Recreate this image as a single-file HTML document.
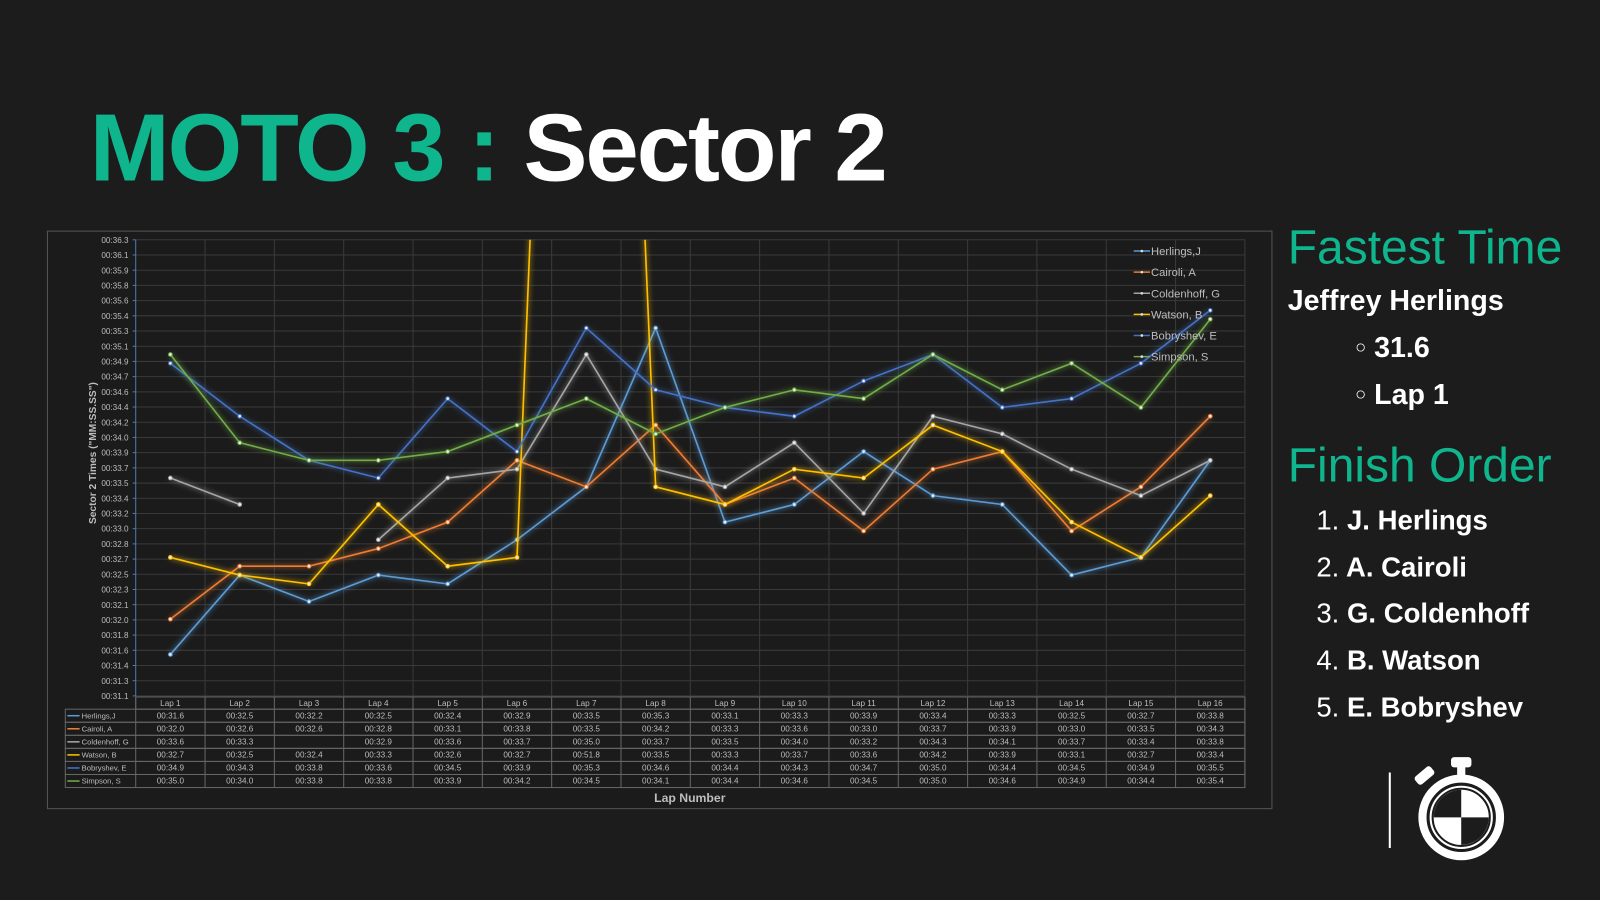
<!DOCTYPE html>
<html><head><meta charset="utf-8"><style>
html,body{margin:0;padding:0;background:#1c1c1c;}
#wrap{position:absolute;left:0;top:0;width:1568px;height:882px;transform:scale(1.020408);transform-origin:0 0;background:#1c1c1c;font-family:"Liberation Sans",sans-serif;overflow:hidden}
.t{position:absolute;white-space:nowrap}
</style></head><body><div id="wrap">
<div class="t" style="left:88px;top:91px;font-size:94px;font-weight:bold;color:#0fb58c;letter-spacing:-2px">MOTO 3 :</div>
<div class="t" style="left:513px;top:91px;font-size:94px;font-weight:bold;color:#fff;letter-spacing:-2px">Sector 2</div>
<svg id="ch" style="position:absolute;left:0;top:0" width="1568" height="882"></svg>
<div class="t" style="left:1262px;top:214px;font-size:47px;color:#0fb58c">Fastest Time</div>
<div class="t" style="left:1262px;top:279px;font-size:28px;font-weight:bold;color:#fff">Jeffrey Herlings</div>
<div class="t" style="left:1328px;top:325px;font-size:28px;font-weight:bold;color:#fff"><span style="font-size:18px;font-weight:normal;vertical-align:4px">○</span>&nbsp;31.6</div>
<div class="t" style="left:1328px;top:371px;font-size:28px;font-weight:bold;color:#fff"><span style="font-size:18px;font-weight:normal;vertical-align:4px">○</span>&nbsp;Lap 1</div>
<div class="t" style="left:1262px;top:428px;font-size:47px;color:#0fb58c">Finish Order</div>
<div class="t" style="left:1290px;top:488px;font-size:27px;font-weight:bold;color:#fff;line-height:45.7px">
<div><span style="font-weight:normal">1.</span> J. Herlings</div>
<div><span style="font-weight:normal">2.</span> A. Cairoli</div>
<div><span style="font-weight:normal">3.</span> G. Coldenhoff</div>
<div><span style="font-weight:normal">4.</span> B. Watson</div>
<div><span style="font-weight:normal">5.</span> E. Bobryshev</div>
</div>
<svg style="position:absolute;left:1350px;top:735px" width="140" height="120">
<line x1="12" y1="22" x2="12" y2="96" stroke="#fff" stroke-width="2"/>
<rect x="72" y="7" width="20" height="10" rx="3" fill="#fff"/>
<rect x="78" y="15" width="8" height="10" fill="#fff"/>
<rect x="36" y="20" width="20" height="10" rx="3" fill="#fff" transform="rotate(-40 46 25)"/>
<circle cx="82" cy="66" r="38" fill="none" stroke="#fff" stroke-width="8"/>
<circle cx="82" cy="66" r="28" fill="#fff" stroke="#1c1c1c" stroke-width="2"/>
<circle cx="82" cy="66" r="30" fill="none" stroke="#fff" stroke-width="2"/>
<path d="M82 66 L82 39 A27 27 0 0 0 55 66 Z" fill="#1c1c1c"/>
<path d="M82 66 L109 66 A27 27 0 0 1 82 93 Z" fill="#1c1c1c"/>
</svg>
</div>
<script>
var NS="http://www.w3.org/2000/svg",svg=document.getElementById('ch');
function el(n,a,p){var e=document.createElementNS(NS,n);for(var k in a)e.setAttribute(k,a[k]);(p||svg).appendChild(e);return e;}
function tx(x,y,s,a){var e=el('text',Object.assign({x:x,y:y,fill:'#bdbdbd','font-size':8,'font-family':'Liberation Sans, sans-serif','text-anchor':'middle'},a||{}));e.textContent=s;return e;}
var defs=el('defs',{});var f=el('filter',{id:'gl',x:'-10%',y:'-10%',width:'120%',height:'120%'},defs);
el('feGaussianBlur',{stdDeviation:2.5,result:'b'},f);var m=el('feMerge',{},f);el('feMergeNode',{in:'b'},m);el('feMergeNode',{in:'SourceGraphic'},m);
var cp=el('clipPath',{id:'cp'},defs);el('rect',{x:133,y:235,width:1087,height:447},cp);
el('rect',{x:46.5,y:226.5,width:1200,height:566,fill:'#1b1b1b',stroke:'#555','stroke-width':1});
var L=133,R=1220,T=235,B=682,cw=(R-L)/16;
var labs="36.3 36.1 35.9 35.8 35.6 35.4 35.3 35.1 34.9 34.7 34.6 34.4 34.2 34.0 33.9 33.7 33.5 33.4 33.2 33.0 32.8 32.7 32.5 32.3 32.1 32.0 31.8 31.6 31.4 31.3 31.1".split(' ');
for(var i=0;i<31;i++){var y=T+i*(B-T)/30;el('line',{x1:L,x2:R,y1:y,y2:y,stroke:'#3a3a3a','stroke-width':1});
el('line',{x1:L-3,x2:L,y1:y,y2:y,stroke:'#4a7ab0'});tx(126,y+3,'00:'+labs[i],{'text-anchor':'end'});}
for(var i=1;i<=16;i++){var x=L+i*cw;el('line',{x1:x,x2:x,y1:T,y2:B,stroke:'#3a3a3a'});}
el('line',{x1:L,x2:L,y1:T,y2:B,stroke:'#4a7ab0'});
var t=tx(0,0,'Sector 2 Times ("MM:SS.SS")',{'font-size':10,'font-weight':'bold',transform:'translate(94,444) rotate(-90)'});
var names=['Herlings,J','Cairoli, A','Coldenhoff, G','Watson, B','Bobryshev, E','Simpson, S'];
var cols=['#5b9bd5','#ed7d31','#a5a5a5','#ffc000','#4472c4','#70ad47'];
var D=[[31.6,32.5,32.2,32.5,32.4,32.9,33.5,35.3,33.1,33.3,33.9,33.4,33.3,32.5,32.7,33.8],
[32.0,32.6,32.6,32.8,33.1,33.8,33.5,34.2,33.3,33.6,33.0,33.7,33.9,33.0,33.5,34.3],
[33.6,33.3,null,32.9,33.6,33.7,35.0,33.7,33.5,34.0,33.2,34.3,34.1,33.7,33.4,33.8],
[32.7,32.5,32.4,33.3,32.6,32.7,51.8,33.5,33.3,33.7,33.6,34.2,33.9,33.1,32.7,33.4],
[34.9,34.3,33.8,33.6,34.5,33.9,35.3,34.6,34.4,34.3,34.7,35.0,34.4,34.5,34.9,35.5],
[35.0,34.0,33.8,33.8,33.9,34.2,34.5,34.1,34.4,34.6,34.5,35.0,34.6,34.9,34.4,35.4]];
function Y(v){return B-(v-31.13)/5.17*(B-T);}
var g=el('g',{'clip-path':'url(#cp)'});
D.forEach(function(d,s){var segs=[],cur=[];d.forEach(function(v,i){if(v==null){if(cur.length)segs.push(cur);cur=[];}else cur.push([L+cw*(i+.5),Y(v)]);});if(cur.length)segs.push(cur);
segs.forEach(function(sg){if(sg.length>1)el('polyline',{points:sg.map(function(p){return p.join(',')}).join(' '),fill:'none',stroke:cols[s],'stroke-width':1.6,filter:'url(#gl)'},g);
sg.forEach(function(p){el('circle',{cx:p[0],cy:p[1],r:1.8,fill:'#eee',stroke:cols[s],'stroke-width':1},g);});});});
names.forEach(function(n,s){var y=246+s*20.7;el('line',{x1:1111,x2:1127,y1:y,y2:y,stroke:cols[s],'stroke-width':1.5});el('circle',{cx:1119,cy:y,r:1.3,fill:'#ddd'});tx(1128,y+4,n,{'text-anchor':'start','font-size':11});});
var tT=683,rh=12.8,tL=64;
el('rect',{x:L,y:tT,width:R-L,height:12,fill:'none',stroke:'#666'});
for(var i=0;i<16;i++){tx(L+cw*(i+.5),tT+9,'Lap '+(i+1));}
for(var r=0;r<6;r++){var y=tT+12+r*rh;el('rect',{x:tL,y:y,width:R-tL,height:rh,fill:'none',stroke:'#666'});
el('line',{x1:66,x2:78,y1:y+rh/2,y2:y+rh/2,stroke:cols[r],'stroke-width':1.5});tx(80,y+9,names[r],{'text-anchor':'start','font-size':7.5});
D[r].forEach(function(v,i){if(v!=null)tx(L+cw*(i+.5),y+9,'00:'+v.toFixed(1));});}
for(var i=0;i<=16;i++){var x=L+i*cw;el('line',{x1:x,x2:x,y1:tT,y2:tT+12+6*rh,stroke:'#666'});}
tx(676,786,'Lap Number',{'font-size':12,'font-weight':'bold'});
</script>
</body></html>
